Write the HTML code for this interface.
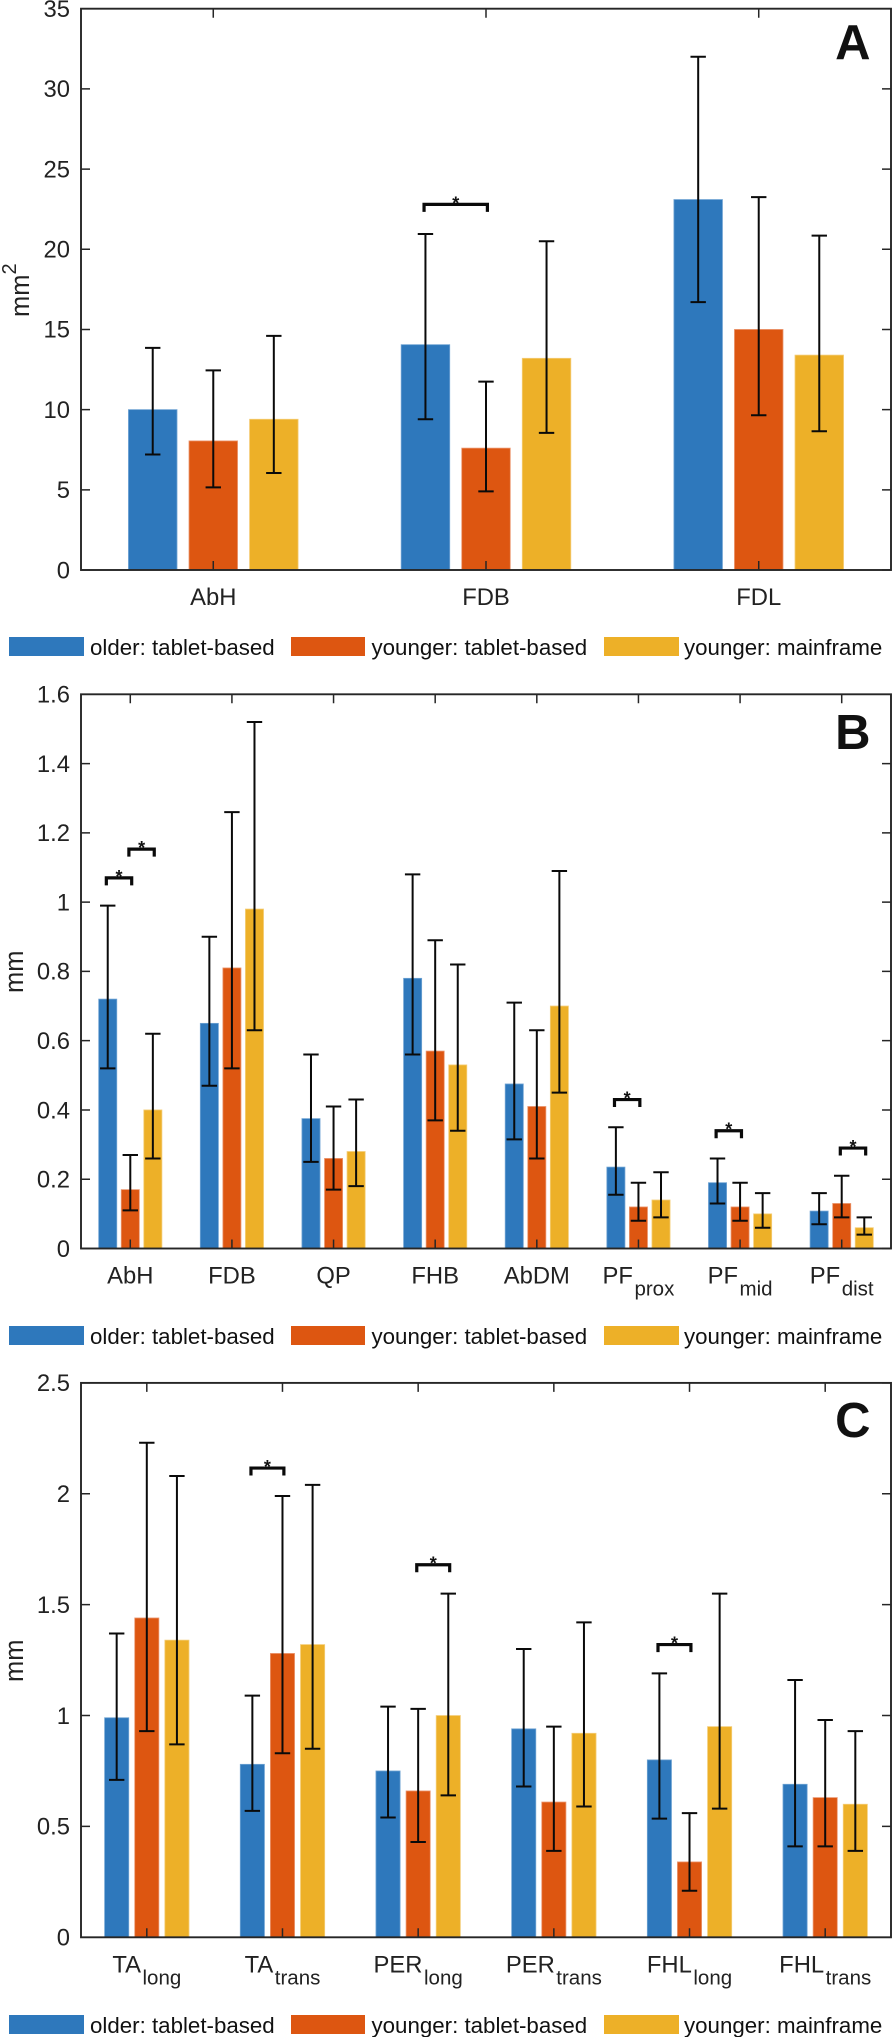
<!DOCTYPE html>
<html lang="en">
<head>
<meta charset="utf-8">
<title>Muscle measurements by group</title>
<style>
html,body{margin:0;padding:0;background:#fff;}
body{width:892px;height:2037px;overflow:hidden;}
svg{display:block;font-family:"Liberation Sans",Arial,sans-serif;}
.leg{font-size:22.3px;fill:#111;}
.letter{font-size:49px;font-weight:bold;fill:#111;}
</style>
</head>
<body>
<svg id="figure" width="892" height="2037" viewBox="0 0 892 2037" xmlns="http://www.w3.org/2000/svg">
  <rect width="892" height="2037" fill="#fff"/>
  <g id="panel-a"></g>
  <g id="panel-b"></g>
  <g id="panel-c"></g>

  <text class="letter" x="870.5" y="59" text-anchor="end">A</text>
  <text class="letter" x="870.5" y="749" text-anchor="end">B</text>
  <text class="letter" x="870.5" y="1437" text-anchor="end">C</text>

  <text transform="translate(29,317) rotate(-90)" font-size="25.5" fill="#222">mm<tspan font-size="20" dy="-13">2</tspan></text>
  <text transform="translate(23,993) rotate(-90)" font-size="25.5" fill="#222">mm</text>
  <text transform="translate(23,1682) rotate(-90)" font-size="25.5" fill="#222">mm</text>

  <g>
    <rect x="9" y="637" width="75" height="19" fill="#2E78BC"/>
    <text class="leg" x="90" y="655">older: tablet-based</text>
    <rect x="291" y="637" width="74" height="19" fill="#DD5611"/>
    <text class="leg" x="371.5" y="655">younger: tablet-based</text>
    <rect x="604" y="637" width="75" height="19" fill="#EDB028"/>
    <text class="leg" x="684" y="655">younger: mainframe</text>
  </g>
  <g>
    <rect x="9" y="1326" width="75" height="19" fill="#2E78BC"/>
    <text class="leg" x="90" y="1344">older: tablet-based</text>
    <rect x="291" y="1326" width="74" height="19" fill="#DD5611"/>
    <text class="leg" x="371.5" y="1344">younger: tablet-based</text>
    <rect x="604" y="1326" width="75" height="19" fill="#EDB028"/>
    <text class="leg" x="684" y="1344">younger: mainframe</text>
  </g>
  <g>
    <rect x="9" y="2015" width="75" height="19" fill="#2E78BC"/>
    <text class="leg" x="90" y="2033">older: tablet-based</text>
    <rect x="291" y="2015" width="74" height="19" fill="#DD5611"/>
    <text class="leg" x="371.5" y="2033">younger: tablet-based</text>
    <rect x="604" y="2015" width="75" height="19" fill="#EDB028"/>
    <text class="leg" x="684" y="2033">younger: mainframe</text>
  </g>
</svg>

<script>
// Panel A data
const aCategories = ['AbH', 'FDB', 'FDL'];
const aSubscripts = ['', '', ''];
const aTicks = [0, 5, 10, 15, 20, 25, 30, 35];
const aOlder = [10, 14.05, 23.1];
const aOlderLow = [7.2, 9.4, 16.7];
const aOlderHigh = [13.85, 20.95, 32];
const aYounger = [8.05, 7.6, 15];
const aYoungerLow = [5.15, 4.9, 9.65];
const aYoungerHigh = [12.45, 11.75, 23.25];
const aMain = [9.4, 13.2, 13.4];
const aMainLow = [6.05, 8.55, 8.65];
const aMainHigh = [14.6, 20.5, 20.85];
const aSigGroup = [1];
const aSigFrom = [0];
const aSigTo = [1];
const aSigLevel = [22.8];

// Panel B data
const bCategories = ['AbH', 'FDB', 'QP', 'FHB', 'AbDM', 'PF', 'PF', 'PF'];
const bSubscripts = ['', '', '', '', '', 'prox', 'mid', 'dist'];
const bTicks = [0, 0.2, 0.4, 0.6, 0.8, 1, 1.2, 1.4, 1.6];
const bOlder = [0.72, 0.65, 0.375, 0.78, 0.475, 0.235, 0.19, 0.108];
const bOlderLow = [0.52, 0.47, 0.25, 0.56, 0.315, 0.155, 0.13, 0.07];
const bOlderHigh = [0.99, 0.90, 0.56, 1.08, 0.71, 0.35, 0.26, 0.16];
const bYounger = [0.17, 0.81, 0.26, 0.57, 0.41, 0.12, 0.12, 0.13];
const bYoungerLow = [0.11, 0.52, 0.17, 0.37, 0.26, 0.08, 0.08, 0.09];
const bYoungerHigh = [0.27, 1.26, 0.41, 0.89, 0.63, 0.19, 0.19, 0.21];
const bMain = [0.40, 0.98, 0.28, 0.53, 0.70, 0.14, 0.10, 0.06];
const bMainLow = [0.26, 0.63, 0.18, 0.34, 0.45, 0.09, 0.06, 0.04];
const bMainHigh = [0.62, 1.52, 0.43, 0.82, 1.09, 0.22, 0.16, 0.09];
const bSigGroup = [0, 0, 5, 6, 7];
const bSigFrom = [0, 1, 0, 0, 1];
const bSigTo = [1, 2, 1, 1, 2];
const bSigLevel = [1.07, 1.153, 0.43, 0.34, 0.29];

// Panel C data
const cCategories = ['TA', 'TA', 'PER', 'PER', 'FHL', 'FHL'];
const cSubscripts = ['long', 'trans', 'long', 'trans', 'long', 'trans'];
const cTicks = [0, 0.5, 1, 1.5, 2, 2.5];
const cOlder = [0.99, 0.78, 0.75, 0.94, 0.80, 0.69];
const cOlderLow = [0.71, 0.57, 0.54, 0.68, 0.535, 0.41];
const cOlderHigh = [1.37, 1.09, 1.04, 1.30, 1.19, 1.16];
const cYounger = [1.44, 1.28, 0.66, 0.61, 0.34, 0.63];
const cYoungerLow = [0.93, 0.83, 0.43, 0.39, 0.21, 0.41];
const cYoungerHigh = [2.23, 1.99, 1.03, 0.95, 0.56, 0.98];
const cMain = [1.34, 1.32, 1.0, 0.92, 0.95, 0.60];
const cMainLow = [0.87, 0.85, 0.64, 0.59, 0.58, 0.39];
const cMainHigh = [2.08, 2.04, 1.55, 1.42, 1.55, 0.93];
const cSigGroup = [1, 2, 4];
const cSigFrom = [0, 1, 0];
const cSigTo = [1, 2, 1];
const cSigLevel = [2.116, 1.68, 1.32];

const seriesNames = ['older-tablet', 'younger-tablet', 'younger-mainframe'];
const seriesFills = ['#2E78BC', '#DD5611', '#EDB028'];
const seriesEdges = ['#6FA3D3', '#EB9770', '#F4CD77'];

const NS = 'http://www.w3.org/2000/svg';
const AXIS = '#262626';
const LEFT = 81;
const RIGHT = 891;

function make(parent, tag, attrs) {
  const el = document.createElementNS(NS, tag);
  for (const k in attrs) el.setAttribute(k, attrs[k]);
  parent.appendChild(el);
  return el;
}

function drawPanel(g, top, bottom, categories, subscripts, ticks, values, lows, highs, sigGroup, sigFrom, sigTo, sigLevel) {
  const n = categories.length;
  const yMax = ticks[ticks.length - 1];
  const step = (RIGHT - LEFT) / (n - 1 + 0.97);
  const xCat = i => LEFT + (i + 0.485) * step;
  const xBar = (i, s) => xCat(i) + (s - 1) * 0.222 * step;
  const barW = 0.178 * step;
  const y = v => bottom - (v / yMax) * (bottom - top);

  // bars
  values.forEach((series, s) => {
    series.forEach((v, i) => {
      const bar = make(g, 'rect', {
        x: xBar(i, s) - barW / 2, y: y(v), width: barW, height: bottom - y(v),
        fill: seriesFills[s], stroke: seriesEdges[s], 'stroke-width': 0.8
      });
      
      
    });
  });

  // axes box
  const box = make(g, 'rect', {
    x: LEFT, y: top, width: RIGHT - LEFT, height: bottom - top,
    fill: 'none', stroke: AXIS, 'stroke-width': 1.9
  });
  
  

  // y ticks and labels
  ticks.forEach(t => {
    const ty = y(t);
    const tick = make(g, 'path', {
      d: 'M' + LEFT + ' ' + ty + 'h9M' + RIGHT + ' ' + ty + 'h-9',
      stroke: AXIS, 'stroke-width': 1.5, fill: 'none'
    });
    
    
    const label = make(g, 'text', {
      x: 70, y: ty + 8.3, 'text-anchor': 'end', 'font-size': 23.8, fill: '#222'
    });
    label.textContent = String(t);
    
    
  });

  // x ticks and labels
  categories.forEach((c, i) => {
    const tx = xCat(i);
    const tick = make(g, 'path', {
      d: 'M' + tx + ' ' + bottom + 'v-9M' + tx + ' ' + top + 'v9',
      stroke: AXIS, 'stroke-width': 1.5, fill: 'none'
    });
    
    
    const label = make(g, 'text', {
      x: tx, y: bottom + 35, 'text-anchor': 'middle', 'font-size': 23.8, fill: '#222'
    });
    
    
    label.appendChild(document.createTextNode(c));
    if (subscripts[i]) {
      const sub = make(label, 'tspan', { 'font-size': 20.5, dy: 12, dx: 1.5 });
      sub.textContent = subscripts[i];
    }
  });

  // error bars
  values.forEach((series, s) => {
    series.forEach((v, i) => {
      const ex = xBar(i, s);
      const lo = y(lows[s][i]);
      const hi = y(highs[s][i]);
      const err = make(g, 'path', {
        d: 'M' + ex + ' ' + lo + 'V' + hi + 'M' + (ex - 7.7) + ' ' + lo + 'h15.4M' + (ex - 7.7) + ' ' + hi + 'h15.4',
        stroke: '#0a0a0a', 'stroke-width': 2, fill: 'none'
      });
      
      
    });
  });

  // significance brackets
  sigGroup.forEach((grp, k) => {
    const x1 = xBar(grp, sigFrom[k]) - 1.4;
    const x2 = xBar(grp, sigTo[k]) + 1.4;
    const by = y(sigLevel[k]);
    const bracket = make(g, 'path', {
      d: 'M' + x1 + ' ' + (by + 7.5) + 'V' + by + 'H' + x2 + 'V' + (by + 7.5),
      stroke: '#0a0a0a', 'stroke-width': 3.2, fill: 'none'
    });
    
    
    const star = make(g, 'text', {
      x: (x1 + x2) / 2, y: by + 5, 'text-anchor': 'middle', 'font-size': 18, 'font-weight': 'bold', fill: '#111'
    });
    star.textContent = '*';
    
    
  });
}

drawPanel(document.getElementById('panel-a'), 8.7, 570, aCategories, aSubscripts, aTicks,
  [aOlder, aYounger, aMain], [aOlderLow, aYoungerLow, aMainLow], [aOlderHigh, aYoungerHigh, aMainHigh],
  aSigGroup, aSigFrom, aSigTo, aSigLevel);
drawPanel(document.getElementById('panel-b'), 694.3, 1248.5, bCategories, bSubscripts, bTicks,
  [bOlder, bYounger, bMain], [bOlderLow, bYoungerLow, bMainLow], [bOlderHigh, bYoungerHigh, bMainHigh],
  bSigGroup, bSigFrom, bSigTo, bSigLevel);
drawPanel(document.getElementById('panel-c'), 1382.9, 1937.3, cCategories, cSubscripts, cTicks,
  [cOlder, cYounger, cMain], [cOlderLow, cYoungerLow, cMainLow], [cOlderHigh, cYoungerHigh, cMainHigh],
  cSigGroup, cSigFrom, cSigTo, cSigLevel);
</script>
</body>
</html>
